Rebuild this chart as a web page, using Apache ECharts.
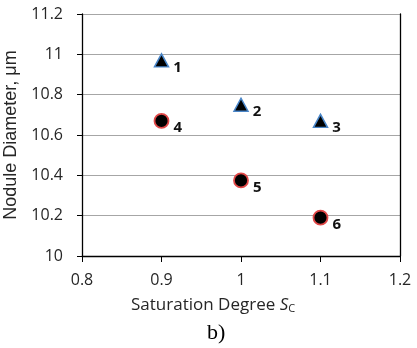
<!DOCTYPE html>
<html>
<head>
<meta charset="utf-8">
<script src="https://cdn.jsdelivr.net/npm/echarts@6/dist/echarts.min.js"></script>
<style>
  html, body { margin: 0; padding: 0; background: #fff; }
  #chart { width: 417px; height: 348px; }
</style>
</head>
<body>
<div id="chart"></div>
<script>
// Nodule diameter vs. saturation degree
const saturation = [0.9, 1.0, 1.1];
const diameterTriangles = [10.97, 10.75, 10.67];
const diameterCircles = [10.67, 10.375, 10.19];
const triangleLabels = ['1', '2', '3'];
const circleLabels = ['4', '5', '6'];
const xTicks = [0.8, 0.9, 1.0, 1.1, 1.2];
const yTicks = [10, 10.2, 10.4, 10.6, 10.8, 11, 11.2];

const tickFont = { fontFamily: 'Open Sans', fontSize: 16, color: '#262626' };
const pointLabel = {
  show: true,
  position: 'right',
  offset: [-1, 7],
  fontFamily: 'Open Sans',
  fontWeight: 'bold',
  fontSize: 15,
  color: '#111'
};

function pairs(xs, ys, names) {
  return xs.map((x, i) => ({ value: [x, ys[i]], name: names[i] }));
}

const chart = echarts.init(document.getElementById('chart'), null, { renderer: 'canvas' });
chart.setOption({
  animation: false,
  backgroundColor: '#ffffff',
  grid: { left: 82, right: 17, top: 14, bottom: 92, outerBoundsMode: 'none', containLabel: false },
  xAxis: {
    type: 'value',
    min: xTicks[0],
    max: xTicks[xTicks.length - 1],
    interval: 0.1,
    axisLine: { show: true, lineStyle: { color: '#000', width: 1.3 } },
    axisTick: { show: true, inside: false, length: 6, lineStyle: { color: '#000' } },
    splitLine: { show: false },
    axisLabel: Object.assign({ margin: 16, formatter: v => String(Math.round(v * 10) / 10) }, tickFont)
  },
  yAxis: [{
    type: 'value',
    min: yTicks[0],
    max: yTicks[yTicks.length - 1],
    interval: 0.2,
    name: 'Nodule Diameter, μm',
    nameLocation: 'middle',
    nameGap: 62,
    nameTextStyle: { fontFamily: 'Liberation Sans', fontSize: 18, color: '#262626' },
    axisLine: { show: true, lineStyle: { color: '#000', width: 1.3 } },
    axisTick: { show: true, inside: false, length: 5, lineStyle: { color: '#000' } },
    splitLine: { show: true, lineStyle: { color: '#a6a6a6', width: 1.2 } },
    axisLabel: Object.assign({ margin: 19, formatter: v => String(Math.round(v * 10) / 10) }, tickFont)
  }, {
    type: 'value',
    position: 'right',
    min: yTicks[0],
    max: yTicks[yTicks.length - 1],
    interval: 0.2,
    axisLine: { show: true, lineStyle: { color: '#000', width: 1.3 } },
    axisTick: { show: false },
    axisLabel: { show: false },
    splitLine: { show: false }
  }],
  series: [{
    type: 'scatter',
    data: pairs(saturation, diameterTriangles, triangleLabels),
    symbol: 'triangle',
    symbolSize: [14, 13],
    itemStyle: { color: '#000', borderColor: '#4a86c8', borderWidth: 1.5, opacity: 1 },
    label: Object.assign({ formatter: p => p.name }, pointLabel)
  }, {
    type: 'scatter',
    data: pairs(saturation, diameterCircles, circleLabels),
    symbol: 'circle',
    symbolSize: 14,
    itemStyle: { color: '#000', borderColor: '#e04848', borderWidth: 1.8, opacity: 1 },
    label: Object.assign({ formatter: p => p.name }, pointLabel)
  }],
  graphic: [{
    type: 'text',
    left: 131,
    top: 297,
    style: {
      text: 'Saturation Degree {i|S}{s|C}',
      font: '17px "Open Sans"',
      fill: '#262626',
      rich: {
        i: { fontFamily: 'Open Sans', fontSize: 17, fontStyle: 'italic', fill: '#262626' },
        s: { fontFamily: 'Open Sans', fontSize: 11, fill: '#262626', padding: [7, 0, 0, 0] }
      }
    }
  }, {
    type: 'text',
    left: 207,
    top: 322,
    style: { text: 'b)', font: '22px "Liberation Serif"', fill: '#000' }
  }]
});
</script>
</body>
</html>
